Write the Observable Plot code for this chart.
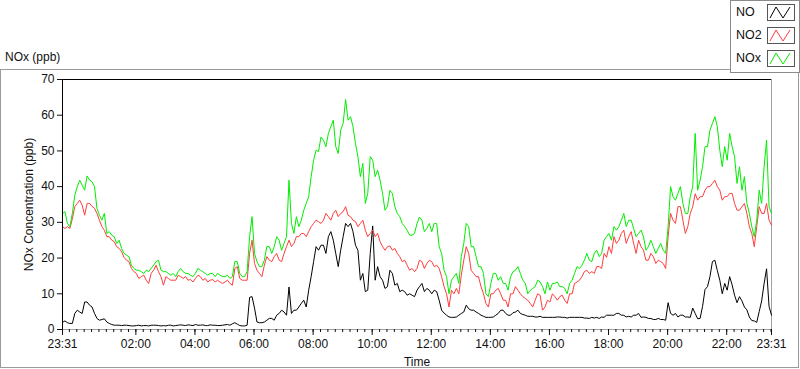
<!DOCTYPE html>
<html>
<head>
<meta charset="utf-8">
<script src="https://cdn.jsdelivr.net/npm/d3@7"></script>
<script src="https://cdn.jsdelivr.net/npm/@observablehq/plot@0.6"></script>
<style>
  html, body { margin: 0; padding: 0; background: #fff; }
  #wrap { position: relative; width: 800px; height: 369px; overflow: hidden; font-family: "Liberation Sans", Arial, sans-serif; }
  #outer { position: absolute; left: 0; top: 69px; width: 799px; height: 299px; box-sizing: border-box; border: 1px solid #9a9a9a; }
  #chart { position: absolute; left: 0; top: 0; }
  #title { position: absolute; left: 5px; top: 50px; font-size: 12px; color: #111; }
  #legend { position: absolute; left: 730px; top: 0; width: 70px; height: 73px; box-sizing: border-box; background: #fff; border: 1px solid #8a8a8a; }
  .lrow { position: absolute; left: 5px; font-size: 12.5px; color: #111; }
  .sw { position: absolute; left: 36px; width: 28px; height: 17px; box-sizing: border-box; border: 1px solid #555; background: #fff; }
</style>
</head>
<body>
<div id="wrap">
  <div id="outer"></div>
  <div id="chart"></div>
  <div id="title">NOx (ppb)</div>
  <div id="legend"></div>
</div>
<script>
// ---- data (5-minute readings from 23:31 to 23:31 next day) ----
const startLabel = "23:31";
const stepMinutes = 5;
const seriesNames = ["NO", "NO2", "NOx"];
const seriesColors = ["#000000", "#ff3c3c", "#00ee00"];

const NO = [
  2.0,2.4,1.9,1.7,1.7,4.5,5.4,4.9,4.5,7.7,7.7,6.8,6.3,4.5,3.1,2.6,2.8,3.0,2.1,1.7,
  1.4,1.2,1.2,1.2,1.1,1.2,1.2,1.1,1.0,1.0,1.1,1.2,1.0,1.1,1.1,1.0,1.2,1.2,1.2,1.1,
  1.0,1.1,1.0,1.2,1.2,1.0,1.1,1.2,1.3,1.2,1.1,1.3,1.2,1.1,1.4,1.2,1.2,1.3,1.1,1.1,
  1.3,1.2,1.2,1.1,1.1,1.2,1.3,1.4,1.2,1.6,1.9,1.5,1.1,1.0,1.0,1.2,9.0,9.2,6.0,2.1,
  1.9,1.9,2.1,2.6,3.1,3.1,2.6,4.0,4.5,5.4,4.9,4.0,11.9,4.5,5.4,5.4,6.3,7.3,8.2,6.3,
  11.0,14.8,19.0,23.2,22.2,23.6,23.6,21.3,26.0,27.4,25.0,21.3,17.6,22.2,26.0,29.7,28.8,29.7,27.4,23.6,
  22.2,13.8,15.7,10.6,11.0,21.3,29.0,13.8,17.6,14.8,13.8,11.5,12.0,16.6,15.7,12.4,12.9,10.6,11.0,10.6,
  9.6,10.0,9.6,9.2,11.0,12.0,12.9,10.6,11.5,11.0,10.0,11.0,10.6,8.2,5.4,4.6,4.0,3.5,3.4,3.4,
  3.5,4.0,4.5,4.9,6.8,5.8,5.4,5.4,4.9,4.5,4.0,3.7,3.4,3.4,3.4,3.5,4.0,4.5,5.4,5.4,
  4.5,4.0,4.0,4.7,4.9,5.4,4.5,4.2,4.0,3.7,3.7,3.7,3.5,3.5,3.7,3.4,3.4,3.4,3.4,3.4,
  3.4,3.5,3.5,3.4,3.4,3.2,3.4,3.4,3.4,3.4,3.4,3.4,3.2,3.2,3.1,3.4,3.2,3.4,3.1,3.5,
  3.4,4.0,4.0,4.0,4.0,4.5,4.5,4.0,4.0,3.5,3.7,3.5,4.0,4.0,4.5,3.4,3.5,3.4,3.1,3.1,
  2.8,2.8,3.1,2.8,2.8,2.6,7.5,4.5,4.0,4.5,3.5,4.0,4.0,3.5,3.5,3.4,6.0,4.5,3.0,3.1,
  6.5,11.2,12.0,14.8,19.0,19.4,16.5,13.8,10.0,12.9,11.0,14.8,12.5,9.6,7.5,9.2,8.0,6.3,5.5,3.5,
  2.5,2.4,2.0,5.0,8.0,12.9,17.0,6.5,4.0
];
const NO2 = [
  28.8,28.3,28.8,28.3,31.0,34.4,35.3,36.2,34.8,32.0,35.3,35.3,34.5,33.9,32.5,30.6,28.8,27.8,26.0,26.0,
  25.0,24.6,23.2,22.7,21.8,20.2,19.4,19.0,17.1,16.2,15.7,14.3,14.8,15.2,13.8,12.9,15.7,16.6,18.0,16.2,
  14.8,12.4,14.8,14.3,13.8,13.8,13.8,15.2,14.8,14.3,14.8,13.8,14.0,13.3,14.3,15.2,14.8,13.8,14.3,13.3,
  13.8,14.0,13.3,13.8,13.3,12.9,13.3,13.8,12.9,12.4,17.1,17.6,14.3,13.8,13.8,13.8,21.3,25.0,18.5,16.6,
  15.7,14.8,18.0,20.4,19.4,19.0,20.4,21.3,19.4,19.0,21.3,23.2,25.0,23.2,24.1,26.0,26.0,26.9,26.9,26.0,
  27.4,28.8,29.7,30.6,30.2,29.7,30.6,32.5,31.6,30.6,32.5,33.4,31.6,32.5,33.0,34.4,32.0,31.6,30.6,30.2,
  28.8,29.7,30.6,27.8,26.0,26.9,27.8,26.0,26.9,24.6,23.2,22.2,23.2,23.4,22.2,22.7,21.3,20.4,19.0,19.4,
  18.0,16.6,17.1,16.2,17.1,19.4,19.0,17.1,18.5,19.4,19.0,17.6,18.0,17.1,14.8,12.0,10.0,6.3,11.0,10.0,
  11.5,10.0,15.2,19.4,23.2,21.3,16.6,15.7,14.8,14.8,12.0,10.0,7.3,6.3,10.0,10.0,11.0,11.5,10.0,8.2,
  8.2,6.3,10.0,10.0,12.0,11.0,10.0,9.2,8.7,8.2,7.3,6.3,8.2,10.0,9.6,5.4,6.3,8.2,7.7,10.0,
  9.2,8.2,9.2,9.6,8.2,7.3,10.0,10.0,12.9,13.3,13.8,14.8,16.2,16.6,15.7,16.2,15.7,17.6,17.6,17.1,
  21.3,20.2,23.2,21.3,26.0,24.1,25.0,26.9,27.8,24.1,26.0,27.4,24.1,21.3,25.0,23.2,22.2,19.4,19.4,21.3,
  20.4,18.5,19.4,19.0,18.5,17.1,26.0,32.5,30.6,29.7,34.4,34.4,30.6,26.9,28.8,32.5,34.4,38.0,36.2,37.2,
  37.2,39.0,40.0,40.0,40.9,41.8,40.0,39.0,36.2,37.2,37.2,38.1,38.1,35.3,33.4,33.4,34.4,35.3,32.5,28.8,
  26.9,23.2,28.8,34.4,32.5,32.5,35.3,30.6,29.2
];
const NOx = [
  32.5,33.0,29.7,28.8,32.5,37.6,40.0,41.8,40.4,39.0,43.0,41.8,41.4,40.0,33.9,32.0,30.6,32.5,26.9,27.4,
  26.4,26.0,24.1,25.0,22.7,21.3,20.8,20.4,18.0,17.1,16.6,16.6,16.2,15.7,16.6,16.2,17.1,18.0,19.0,19.4,
  16.6,16.2,16.2,15.7,15.2,15.7,14.8,16.2,17.1,16.2,15.7,15.7,15.2,14.8,15.7,17.1,16.6,16.2,15.7,15.2,
  15.7,15.7,14.8,15.7,15.2,14.8,14.8,15.2,14.3,14.8,19.0,19.0,15.7,14.8,14.8,16.2,26.0,31.6,21.3,19.0,
  17.6,17.6,19.4,23.2,23.2,21.3,23.2,26.0,25.0,22.2,24.1,26.0,41.8,29.7,26.9,31.6,28.8,30.6,33.4,35.3,
  37.2,42.8,47.4,50.2,49.8,53.9,53.0,51.2,54.9,56.8,58.6,51.2,49.3,55.8,57.7,64.4,58.6,59.6,56.8,52.1,
  48.4,42.8,46.5,35.3,38.1,48.4,47.4,42.8,44.6,41.8,38.1,33.4,34.4,39.0,38.1,34.4,32.5,31.6,29.7,28.8,
  27.8,26.4,26.4,26.9,29.7,31.5,30.6,27.4,28.3,29.7,27.4,29.7,29.7,23.2,21.3,16.6,14.8,10.0,13.8,14.8,
  15.7,12.9,20.4,24.1,29.7,28.8,23.2,23.2,20.4,17.6,17.6,15.7,10.0,9.2,12.9,15.7,15.7,13.8,14.8,12.9,
  12.9,11.0,14.8,16.2,16.6,17.6,15.7,13.8,12.9,10.0,11.0,11.5,12.0,13.8,13.3,12.0,10.0,13.3,11.0,12.9,
  12.9,13.3,12.0,12.0,11.5,10.0,12.9,13.8,15.7,17.6,17.1,18.0,19.4,21.3,19.4,19.0,21.3,22.2,20.4,21.3,
  25.0,26.0,26.9,25.0,28.8,27.8,28.8,30.6,32.5,28.8,30.6,30.6,28.3,26.0,26.9,27.8,26.0,22.2,23.2,25.0,
  23.2,21.3,22.7,24.1,22.2,21.3,28.8,40.0,37.2,36.2,38.1,40.0,35.3,32.5,32.5,37.2,40.0,54.9,39.0,41.8,
  45.6,51.2,51.2,55.8,57.7,59.6,56.8,50.2,45.6,51.2,47.4,54.9,51.2,48.4,40.9,45.6,39.0,42.8,35.3,32.5,
  28.8,26.0,30.6,39.0,35.3,45.6,53.0,34.4,32.5
];
const xTickLabels = ["23:31","02:00","04:00","06:00","08:00","10:00","12:00","14:00","16:00","18:00","20:00","22:00","23:31"];
const yTicks = [0,10,20,30,40,50,60,70];

// ---- build ----
const [sh, sm] = startLabel.split(":").map(Number);
const t0 = Date.UTC(2000, 0, 1, sh, sm);
const t1 = t0 + 24 * 3600e3;
const seriesValues = [NO, NO2, NOx];
const rows = [];
seriesValues.forEach((vals, k) => vals.forEach((v, i) => rows.push({t: new Date(t0 + i * stepMinutes * 60e3), v, s: seriesNames[k]})));

const majorTicks = xTickLabels.map((lab, i) => {
  if (i === 0) return new Date(t0);
  if (i === xTickLabels.length - 1) return new Date(t1);
  const [h, m] = lab.split(":").map(Number);
  return new Date(Date.UTC(2000, 0, 2, h, m));
});
const labelOf = new Map(majorTicks.map((d, i) => [+d, xTickLabels[i]]));
const minorTicks = d3.utcMinute.every(15).range(new Date(t0), new Date(t1));

const chart = Plot.plot({
  width: 800, height: 369,
  marginLeft: 62, marginRight: 29, marginTop: 79, marginBottom: 40,
  style: {fontFamily: "'Liberation Sans', Arial, sans-serif", fontSize: "12px", color: "#111", background: "transparent", overflow: "visible"},
  x: {type: "utc", domain: [new Date(t0), new Date(t1)]},
  y: {domain: [0, 70]},
  color: {domain: seriesNames, range: seriesColors},
  marks: [
    Plot.ruleY([0], {stroke: "#a0a0a0"}),
    Plot.ruleX([new Date(t1)], {stroke: "#a0a0a0"}),
    Plot.line(rows, {x: "t", y: "v", z: "s", stroke: "s", strokeWidth: 1}),
    Plot.ruleY([70], {stroke: "#000"}),
    Plot.ruleX([new Date(t0)], {stroke: "#000"}),
    Plot.axisX({ticks: minorTicks, tickSize: 3, tickFormat: () => "", label: null}),
    Plot.axisX({ticks: majorTicks, tickSize: 6, tickPadding: 4, tickFormat: d => labelOf.get(+d),
      label: "Time", labelAnchor: "center", labelOffset: 36, labelArrow: "none", fontSize: 12}),
    Plot.axisY({ticks: yTicks, tickSize: 5, tickPadding: 3, fontSize: 12,
      label: "NOx Concentration (ppb)", labelAnchor: "center", labelOffset: 38, labelArrow: "none"})
  ]
});
document.getElementById("chart").appendChild(chart);

// ---- legend ----
const legend = document.getElementById("legend");
seriesNames.forEach((name, k) => {
  const top = 3 + k * 23;
  const lab = document.createElement("div");
  lab.className = "lrow";
  lab.style.top = (top + 1) + "px";
  lab.textContent = name;
  legend.appendChild(lab);
  const sw = document.createElement("div");
  sw.className = "sw";
  sw.style.top = top + "px";
  sw.innerHTML = `<svg width="26" height="15" style="display:block"><polyline points="2,13 8,2 15,13 22,2" fill="none" stroke="${seriesColors[k]}" stroke-width="1"/></svg>`;
  legend.appendChild(sw);
});
</script>
</body>
</html>
